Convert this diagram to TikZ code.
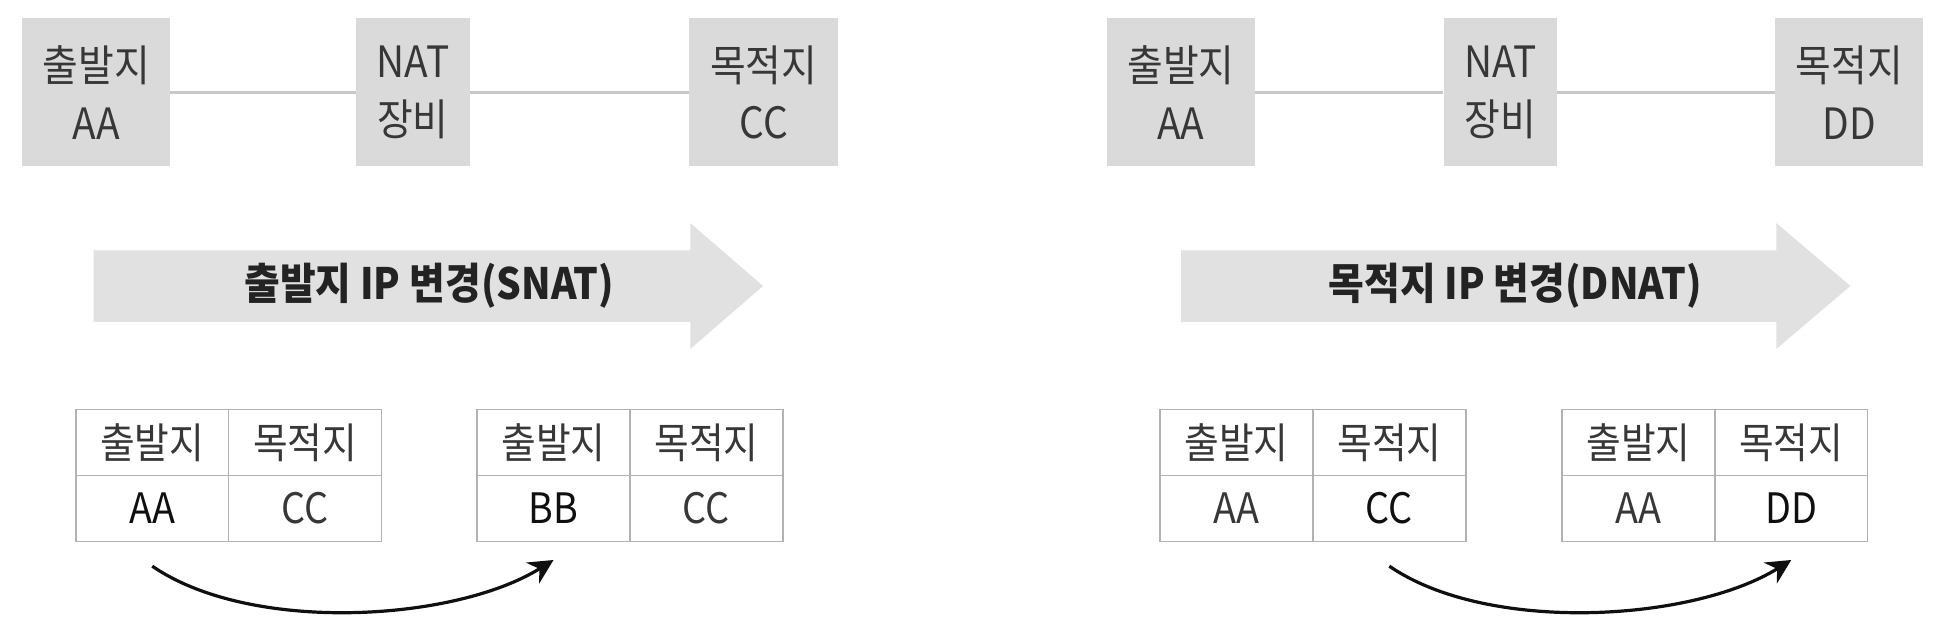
\documentclass[tikz,border=0pt]{standalone}
\usepackage{fontspec}
\setmainfont{Noto Sans CJK KR}
\newfontfamily\figfont[FakeStretch=0.9]{Noto Sans CJK KR}
\usepackage{xcolor}
\usetikzlibrary{arrows.meta,positioning}
\definecolor{boxgray}{RGB}{218,218,218}
\definecolor{arrowgray}{RGB}{225,225,225}
\definecolor{linkgray}{RGB}{200,200,200}
\definecolor{cellline}{RGB}{178,178,178}
\definecolor{txtgray}{RGB}{55,55,55}
\definecolor{txtdark}{RGB}{15,15,15}
\definecolor{bandink}{RGB}{35,35,35}

\tikzset{
	hostbox/.style={fill=boxgray,minimum height=120pt,inner sep=0pt,align=center,
		text=txtgray,font=\figfont\fontsize{35}{47}\selectfont},
	bandtext/.style={inner sep=0pt,text=bandink,font=\figfont\bfseries\fontsize{35}{40}\selectfont},
	cell/.style={draw=cellline,line width=1.2pt,minimum width=124pt,minimum height=53.5pt,
		inner sep=0pt,outer sep=0pt,text=txtgray,font=\figfont\fontsize{34}{40}\selectfont},
	hot/.style={text=txtdark},
	link/.style={linkgray,line width=2pt},
	swap/.style={->,line width=2.6pt,txtdark}
}

\begin{document}
\begin{tikzpicture}[x=1pt,y=1pt,>={Stealth[length=20pt,width=20pt]}]
		\useasboundingbox (0,0) rectangle (1568,-506);
		% SNAT
		\node[hostbox,minimum width=120pt] (src1) at (78,-75) {출발지\\AA};
		\node[hostbox,minimum width=92pt] (nat1) at (335,-75) {NAT\\장비};
		\node[hostbox,minimum width=121pt] (dst1) at (619.5,-75) {목적지\\CC};
		\draw[link] (src1) -- (nat1);
		\draw[link] (nat1) -- (dst1);
		\fill[arrowgray] (76,-203) -- (560,-203) -- (560,-181) -- (619,-232)
			-- (560,-283) -- (560,-261) -- (76,-261) -- cycle;
		\node[bandtext] (snat) at (348,-232) {출발지 IP 변경(SNAT)};
		\node[cell] (a1h) at (123.5,-359) {출발지};
		\node[cell,right=0pt of a1h] (a2h) {목적지};
		\node[cell,hot,below=0pt of a1h] (a1v) {AA};
		\node[cell,below=0pt of a2h] (a2v) {CC};
		\node[cell] (b1h) at (449,-359) {출발지};
		\node[cell,right=0pt of b1h] (b2h) {목적지};
		\node[cell,hot,below=0pt of b1h] (b1v) {BB};
		\node[cell,below=0pt of b2h] (b2v) {CC};
		\coordinate[below=20pt of a1v] (sfrom);
		\coordinate[below=15pt of b1v] (sto);
		\draw[swap] (sfrom) .. controls +(80,-55) and +(-80,-50) .. (sto);
		% DNAT
		\node[hostbox,minimum width=120pt] (src2) at (958,-75) {출발지\\AA};
		\node[hostbox,minimum width=92pt] (nat2) at (1217,-75) {NAT\\장비};
		\node[hostbox,minimum width=120pt] (dst2) at (1500,-75) {목적지\\DD};
		\draw[link] (src2) -- (nat2);
		\draw[link] (nat2) -- (dst2);
		\fill[arrowgray] (958,-203) -- (1441,-203) -- (1441,-181) -- (1501,-232)
			-- (1441,-283) -- (1441,-261) -- (958,-261) -- cycle;
		\node[bandtext] (dnat) at (1229,-232) {목적지 IP 변경(DNAT)};
		\node[cell] (c1h) at (1003,-359) {출발지};
		\node[cell,right=0pt of c1h] (c2h) {목적지};
		\node[cell,below=0pt of c1h] (c1v) {AA};
		\node[cell,hot,below=0pt of c2h] (c2v) {CC};
		\node[cell] (d1h) at (1329,-359) {출발지};
		\node[cell,right=0pt of d1h] (d2h) {목적지};
		\node[cell,below=0pt of d1h] (d1v) {AA};
		\node[cell,hot,below=0pt of d2h] (d2v) {DD};
		\coordinate[below=20pt of c2v] (dfrom);
		\coordinate[below=15pt of d2v] (dto);
		\draw[swap] (dfrom) .. controls +(80,-55) and +(-80,-50) .. (dto);
\end{tikzpicture}
\end{document}
